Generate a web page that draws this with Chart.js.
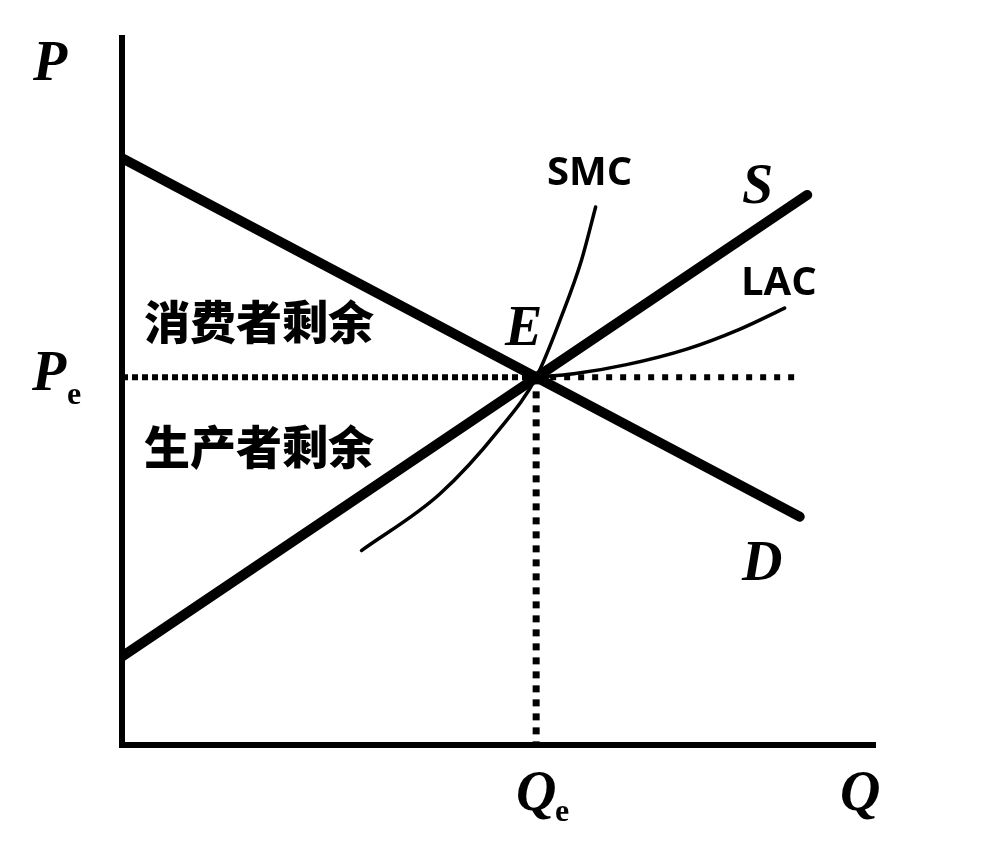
<!DOCTYPE html>
<html lang="zh">
<head>
    <meta charset="UTF-8">
    <title>消费者剩余与生产者剩余</title>
    <script src="https://cdn.jsdelivr.net/npm/chart.js"></script>
    <style>
        html, body { margin: 0; padding: 0; background: #fff; }
        #wrap { width: 988px; height: 844px; position: relative; }
    </style>
</head>
<body>
<div id="wrap"><canvas id="surplusChart"></canvas></div>
<script>
    // 데이터 (x = 수량, y = 가격)
    const demandLine = [{x: 0, y: 83}, {x: 90, y: 32.3}];
    const supplyLine = [{x: 0, y: 12.5}, {x: 91, y: 77.8}];
    const smcCurve = [
        {x: 31.8, y: 27.5}, {x: 42.2, y: 35.5}, {x: 50, y: 44.5}, {x: 55, y: 52},
        {x: 58.5, y: 61}, {x: 61, y: 68.5}, {x: 62.9, y: 76.1}
    ];
    const lacCurve = [
        {x: 55, y: 52}, {x: 60, y: 52.5}, {x: 67, y: 53.8},
        {x: 75, y: 56}, {x: 82, y: 58.8}, {x: 88, y: 61.8}
    ];
    const peLineLeft = [{x: 0, y: 52}, {x: 55, y: 52}];
    const peLineRight = [{x: 55, y: 52}, {x: 90, y: 52}];
    const qeLine = [{x: 55, y: 52}, {x: 55, y: 0}];

    // 텍스트 라벨
    const labelPlugin = {
        id: 'labels',
        afterDatasetsDraw(chart) {
            const c = chart.ctx;
            c.save();
            c.fillStyle = '#000';
            c.textBaseline = 'alphabetic';
            const serif = 'italic bold 56px "Liberation Serif", "DejaVu Serif", serif';
            const sub = 'bold 32px "Liberation Serif", "DejaVu Serif", serif';
            c.font = serif;
            c.fillText('P', 33, 80);
            c.fillText('P', 32, 390);
            c.fillText('E', 505, 345);
            c.fillText('S', 742, 203);
            c.fillText('D', 742, 580);
            c.fillText('Q', 840, 810);
            c.fillText('Q', 516, 810);
            c.font = sub;
            c.fillText('e', 67, 404);
            c.fillText('e', 555, 821);

            c.font = 'bold 40px "Open Sans", "Noto Sans", sans-serif';
            c.fillText('SMC', 547, 185);
            c.fillText('LAC', 741, 295);

            c.font = '900 46px "Noto Sans CJK SC", sans-serif';
            c.textBaseline = 'middle';
            c.fillText('消费者剩余', 144, 322);
            c.fillText('生产者剩余', 144, 447);
            c.restore();
        }
    };

    const thick = {borderColor: '#000', borderWidth: 10, pointRadius: 0, showLine: true, borderCapStyle: 'round'};
    const thin = {borderColor: '#000', borderWidth: 3.5, pointRadius: 0, showLine: true, cubicInterpolationMode: 'monotone', borderCapStyle: 'round'};

    new Chart(document.getElementById('surplusChart'), {
        type: 'scatter',
        data: {
            datasets: [
                {label: 'Pe', data: peLineLeft, borderColor: '#000', borderWidth: 6, borderDash: [6, 4], pointRadius: 0, showLine: true},
                {label: 'Pe2', data: peLineRight, borderColor: '#000', borderWidth: 6, borderDash: [6, 8], pointRadius: 0, showLine: true},
                {label: 'Qe', data: qeLine, borderColor: '#000', borderWidth: 7, borderDash: [7, 7], pointRadius: 0, showLine: true},
                {label: 'D', data: demandLine, ...thick},
                {label: 'S', data: supplyLine, ...thick},
                {label: 'SMC', data: smcCurve, ...thin},
                {label: 'LAC', data: lacCurve, ...thin}
            ]
        },
        options: {
            responsive: true,
            maintainAspectRatio: false,
            animation: false,
            layout: {padding: {left: 114, top: 38, right: 113, bottom: 91}},
            plugins: {legend: {display: false}, tooltip: {enabled: false}},
            scales: {
                x: {
                    type: 'linear', min: 0, max: 100,
                    grid: {display: false},
                    ticks: {display: false},
                    border: {display: true, color: '#000', width: 6}
                },
                y: {
                    type: 'linear', min: 0, max: 100,
                    grid: {display: false},
                    ticks: {display: false},
                    border: {display: true, color: '#000', width: 6}
                }
            }
        },
        plugins: [labelPlugin]
    });
</script>
</body>
</html>
